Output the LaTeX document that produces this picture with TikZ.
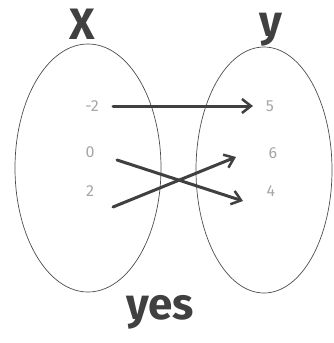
\documentclass[tikz,border=0pt]{standalone}
\usepackage{fontspec}
\setmainfont{Fira Sans}
\usetikzlibrary{arrows.meta}
\begin{document}
\begin{tikzpicture}[x=1pt,y=-1pt,
  setring/.style={draw=black!70,line width=0.7pt},
  bigletter/.style={text=black!75,font=\fontsize{44}{44}\selectfont\bfseries,inner sep=0pt},
  numlabel/.style={text=black!35,font=\fontsize{16}{16}\selectfont,inner sep=1pt},
  maparrow/.style={draw=black!75,line width=3pt,line cap=round,-{Straight Barb[length=9pt,width=14pt,line width=2.5pt]}}]
\useasboundingbox (0,0) rectangle (333,343);
\draw[setring] (88,168) ellipse [x radius=73, y radius=124];
\draw[setring] (264,170) ellipse [x radius=68, y radius=123];
\node[bigletter] (X) at (82,24) {X};
\node[bigletter,anchor=base] (Y) at (271,36) {y};
\node[bigletter] (yes) at (160,312) {yes};
\node[numlabel] (xm2) at (92,106) {-2};
\node[numlabel] (x0) at (90,152) {0};
\node[numlabel] (x2) at (90,191) {2};
\node[numlabel] (y5) at (270,106) {5};
\node[numlabel] (y6) at (273,153) {6};
\node[numlabel] (y4) at (271,191) {4};
\coordinate (a1) at (113,106);
\coordinate (b1) at (253,106);
\coordinate (a2) at (117,160);
\coordinate (b2) at (243,201);
\coordinate (a3) at (113,207);
\coordinate (b3) at (236,157);
\draw[maparrow] (a1) -- (b1);
\draw[maparrow] (a2) -- (b2);
\draw[maparrow] (a3) -- (b3);
\end{tikzpicture}
\end{document}
